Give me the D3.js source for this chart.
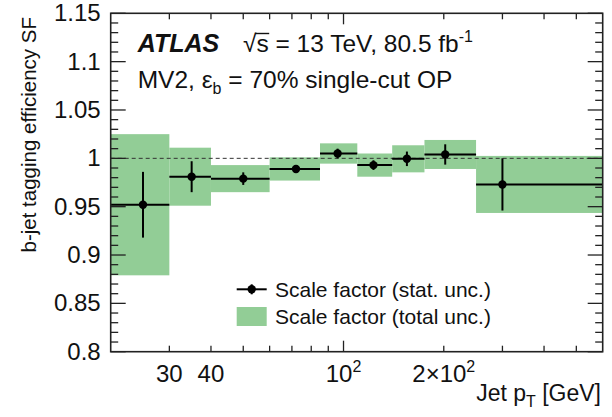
<!DOCTYPE html>
<html>
<head>
<meta charset="utf-8">
<script src="https://cdn.jsdelivr.net/npm/d3@7"></script>
<style>
  body { margin: 0; background: #fff; }
  text { font-family: "Liberation Sans", Arial, sans-serif; fill: #111; }
</style>
</head>
<body>
<div id="chart"></div>
<script>
// jet pT bins [GeV] and measured b-tag scale factors
var binEdges = [20, 30, 40, 60, 85, 110, 140, 175, 250, 600];
var ptMean = [25, 35, 50, 72, 96, 123, 155, 202, 300];
var sfValue = [0.952, 0.981, 0.979, 0.989, 1.005, 0.993, 0.9995, 1.004, 0.973];
var statUnc = [0.034, 0.016, 0.0065, 0.003, 0.005, 0.005, 0.0075, 0.0105, 0.027];
var totalUnc = [0.073, 0.030, 0.014, 0.012, 0.0105, 0.012, 0.014, 0.015, 0.0295];

var yMajorTicks = [0.8, 0.85, 0.9, 0.95, 1, 1.05, 1.1, 1.15];
var xTicks = [30, 40, 50, 60, 70, 80, 90, 100, 200, 300, 400, 500];
var xTickLabels = {30: "30", 40: "40", 100: "10²", 200: "2×10²"};

var W = 612, H = 417;
var margin = {top: 13.3, right: 9.3, bottom: 65.3, left: 110.7};
var width = W - margin.left - margin.right,
    height = H - margin.top - margin.bottom;

var green = "#92cd96";

var svg = d3.select("#chart").append("svg")
    .attr("width", W).attr("height", H);

var g = svg.append("g")
    .attr("transform", "translate(" + margin.left + "," + margin.top + ")");

var x = d3.scaleLog().domain([20, 600]).range([0, width]);
var y = d3.scaleLinear().domain([0.8, 1.15]).range([height, 0]);

var bins = ptMean.map(function(d, i) {
    return {lo: binEdges[i], hi: binEdges[i + 1], pt: d, sf: sfValue[i], stat: statUnc[i], tot: totalUnc[i]};
});

// total uncertainty bands
g.selectAll("rect.band").data(bins).enter().append("rect")
    .attr("class", "band")
    .attr("x", function(d) { return x(d.lo); })
    .attr("width", function(d) { return x(d.hi) - x(d.lo); })
    .attr("y", function(d) { return y(d.sf + d.tot); })
    .attr("height", function(d) { return y(d.sf - d.tot) - y(d.sf + d.tot); })
    .attr("fill", green);

// reference line at 1
g.append("line")
    .attr("x1", 0).attr("x2", width)
    .attr("y1", y(1)).attr("y2", y(1))
    .attr("stroke", "#333").attr("stroke-width", 1)
    .attr("stroke-dasharray", "4,3");

// bin width bars
g.selectAll("line.hbar").data(bins).enter().append("line")
    .attr("class", "hbar")
    .attr("x1", function(d) { return x(d.lo); })
    .attr("x2", function(d) { return x(d.hi); })
    .attr("y1", function(d) { return y(d.sf); })
    .attr("y2", function(d) { return y(d.sf); })
    .attr("stroke", "#000").attr("stroke-width", 2);

// stat error bars
g.selectAll("line.vbar").data(bins).enter().append("line")
    .attr("class", "vbar")
    .attr("x1", function(d) { return x(d.pt); })
    .attr("x2", function(d) { return x(d.pt); })
    .attr("y1", function(d) { return y(d.sf + d.stat); })
    .attr("y2", function(d) { return y(d.sf - d.stat); })
    .attr("stroke", "#000").attr("stroke-width", 2);

g.selectAll("circle.pt").data(bins).enter().append("circle")
    .attr("class", "pt")
    .attr("cx", function(d) { return x(d.pt); })
    .attr("cy", function(d) { return y(d.sf); })
    .attr("r", 4.2)
    .attr("fill", "#000");

// frame
g.append("rect")
    .attr("width", width).attr("height", height)
    .attr("fill", "none").attr("stroke", "#222").attr("stroke-width", 1.6);

// y ticks, minor every 0.01, both sides
var yMinor = d3.range(0, 36).map(function(i) { return +(0.8 + i * 0.01).toFixed(2); });
yMinor.forEach(function(v) {
    var major = yMajorTicks.some(function(m) { return Math.abs(m - v) < 1e-6; });
    var len = major ? 15 : 7.5;
    g.append("line").attr("x1", 0).attr("x2", len).attr("y1", y(v)).attr("y2", y(v))
        .attr("stroke", "#222").attr("stroke-width", 1.3);
    g.append("line").attr("x1", width).attr("x2", width - len).attr("y1", y(v)).attr("y2", y(v))
        .attr("stroke", "#222").attr("stroke-width", 1.3);
});

g.selectAll("text.ylab").data(yMajorTicks).enter().append("text")
    .attr("class", "ylab")
    .attr("x", -10).attr("y", function(d) { return y(d) + 8; })
    .attr("text-anchor", "end")
    .style("font-size", "24px")
    .text(function(d) { return d; });

// x ticks, bottom and top
xTicks.forEach(function(v) {
    var len = (v === 100) ? 11 : 6;
    g.append("line").attr("x1", x(v)).attr("x2", x(v)).attr("y1", height).attr("y2", height - len)
        .attr("stroke", "#222").attr("stroke-width", 1.3);
    g.append("line").attr("x1", x(v)).attr("x2", x(v)).attr("y1", 0).attr("y2", len)
        .attr("stroke", "#222").attr("stroke-width", 1.3);
});

Object.keys(xTickLabels).forEach(function(k) {
    var lab = xTickLabels[k];
    var t = g.append("text")
        .attr("x", x(+k)).attr("y", height + 30)
        .attr("text-anchor", "middle")
        .style("font-size", "24px");
    if (lab.indexOf("²") >= 0) {
        t.append("tspan").text(lab.replace("²", ""));
        t.append("tspan").attr("dy", -10).style("font-size", "16px").text("2");
    } else {
        t.text(lab);
    }
});

// axis titles
var xt = svg.append("text")
    .attr("x", 601).attr("y", 401)
    .attr("text-anchor", "end")
    .style("font-size", "23px");
xt.append("tspan").text("Jet p");
xt.append("tspan").attr("dy", 6).style("font-size", "16px").text("T");
xt.append("tspan").attr("dy", -6).text(" [GeV]");

svg.append("text")
    .attr("transform", "translate(36,17) rotate(-90)")
    .attr("text-anchor", "end")
    .style("font-size", "20.5px")
    .text("b-jet tagging efficiency SF");

// ATLAS label
svg.append("text")
    .attr("x", 137.7).attr("y", 51.7)
    .style("font-size", "25px").style("font-weight", "bold").style("font-style", "italic")
    .text("ATLAS");

var fs = 24.5;
var en = svg.append("text")
    .attr("x", 243).attr("y", 51.7)
    .style("font-size", fs + "px");
en.append("tspan").text("√");
var sPart = en.append("tspan").text("s");
en.append("tspan").text(" = 13 TeV, 80.5 fb");
en.append("tspan").attr("dy", -10).style("font-size", "16px").text("-1");

// overline of the square root
var rootText = svg.append("text").attr("visibility", "hidden").style("font-size", fs + "px").text("√");
var rw = rootText.node().getComputedTextLength();
rootText.remove();
var sw = sPart.node().getComputedTextLength();
svg.append("line")
    .attr("x1", 243 + rw - 1.5).attr("x2", 243 + rw + sw + 0.5)
    .attr("y1", 33.5).attr("y2", 33.5)
    .attr("stroke", "#111").attr("stroke-width", 1.4);

var mv = svg.append("text")
    .attr("x", 137.7).attr("y", 88.3)
    .style("font-size", fs + "px");
mv.append("tspan").text("MV2,  ε");
mv.append("tspan").attr("dy", 6).style("font-size", "16px").text("b");
mv.append("tspan").attr("dy", -6).text(" = 70% single-cut OP");

// legend
var leg = svg.append("g");
leg.append("line").attr("x1", 236.7).attr("x2", 266.7).attr("y1", 289.3).attr("y2", 289.3)
    .attr("stroke", "#000").attr("stroke-width", 2);
leg.append("line").attr("x1", 251.7).attr("x2", 251.7).attr("y1", 284.3).attr("y2", 294.3)
    .attr("stroke", "#000").attr("stroke-width", 2);
leg.append("circle").attr("cx", 251.7).attr("cy", 289.3).attr("r", 4.2).attr("fill", "#000");
leg.append("text").attr("x", 275).attr("y", 297).style("font-size", "21px")
    .text("Scale factor (stat. unc.)");
leg.append("rect").attr("x", 236.7).attr("y", 307).attr("width", 30).attr("height", 19)
    .attr("fill", green);
leg.append("text").attr("x", 275).attr("y", 323.5).style("font-size", "21px")
    .text("Scale factor (total unc.)");
</script>
</body>
</html>
